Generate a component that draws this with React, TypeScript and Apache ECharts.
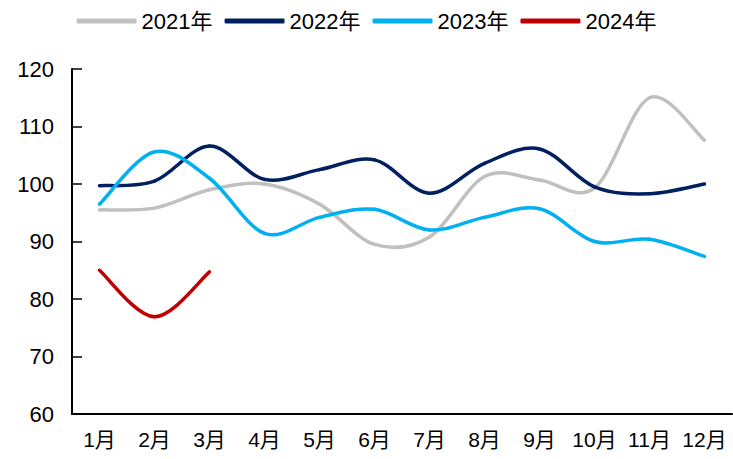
import React, { useEffect, useRef } from "react";
import * as echarts from "echarts";

const months = ["1月", "2月", "3月", "4月", "5月", "6月", "7月", "8月", "9月", "10月", "11月", "12月"];
const s2021 = [95.5, 95.8, 99, 100, 96.5, 89.5, 90.8, 101.3, 100.7, 99.3, 115, 107.6];
const s2022 = [99.7, 100.5, 106.6, 100.8, 102.5, 104.2, 98.4, 103.6, 106.1, 99.5, 98.3, 100];
const s2023 = [96.5, 105.6, 101, 91.4, 94.2, 95.6, 92, 94.2, 95.7, 90, 90.4, 87.4];
const s2024 = [85, 76.9, 84.7];
const names = ["2021年", "2022年", "2023年", "2024年"];
const colors = ["#C0C0C0", "#002060", "#00B0F0", "#C00000"];

const FONT = "'Liberation Sans', 'Noto Sans CJK SC', sans-serif";

export default function App() {
  const ref = useRef<HTMLDivElement>(null);
  useEffect(() => {
    const chart = echarts.init(ref.current!, null, { renderer: "svg" });
    const data = [s2021, s2022, s2023, s2024];
    const makeRender = (arr: number[], color: string) => (params: any, api: any) => {
      const i = params.dataIndex;
      const n = arr.length;
      if (i >= n - 1) return null;
      const c = (k: number) => {
        const kk = Math.max(0, Math.min(n - 1, k));
        return api.coord([kk, arr[kk]]);
      };
      const p0 = c(i - 1), p1 = c(i), p2 = c(i + 1), p3 = c(i + 2);
      const t = 1 / 6;
      return {
        type: "bezierCurve",
        shape: {
          x1: p1[0], y1: p1[1],
          x2: p2[0], y2: p2[1],
          cpx1: p1[0] + (p2[0] - p0[0]) * t,
          cpy1: p1[1] + (p2[1] - p0[1]) * t,
          cpx2: p2[0] - (p3[0] - p1[0]) * t,
          cpy2: p2[1] - (p3[1] - p1[1]) * t,
        },
        style: { stroke: color, lineWidth: 3.5, fill: null, lineCap: "round" },
      };
    };
    chart.setOption({
      animation: false,
      backgroundColor: "#fff",
      legend: {
        top: 5,
        left: "center",
        itemWidth: 60,
        itemHeight: 5,
        itemGap: 12,
        textStyle: { fontFamily: FONT, fontSize: 22, color: "#000" },
        data: names.map((nm, i) => ({ name: nm, icon: "roundRect", itemStyle: { color: colors[i] } })),
      },
      grid: { left: 72, right: 1, top: 69, bottom: 45, containLabel: false },
      xAxis: {
        type: "category",
        data: months,
        boundaryGap: true,
        axisLine: { lineStyle: { color: "#000", width: 2 } },
        axisTick: { inside: true, length: 8, lineStyle: { color: "#000", width: 1.5 } },
        axisLabel: { fontFamily: FONT, fontSize: 21, color: "#000", margin: 15, interval: 0 },
      },
      yAxis: {
        type: "value",
        min: 60,
        max: 120,
        interval: 10,
        splitLine: { show: false },
        axisLine: { show: true, lineStyle: { color: "#000", width: 2 } },
        axisTick: { show: true, inside: true, length: 10, lineStyle: { color: "#000", width: 1.5 } },
        axisLabel: { fontFamily: FONT, fontSize: 22, color: "#000", margin: 18 },
      },
      series: data.map((d, i) => ({
        name: names[i],
        type: "custom",
        data: d.map((v, k) => [k, v]),
        encode: { x: 0, y: 1 },
        itemStyle: { color: colors[i] },
        renderItem: makeRender(d, colors[i]),
      })),
    });
    return () => chart.dispose();
  }, []);
  return <div ref={ref} style={{ width: 733, height: 459, position: "absolute", left: 0, top: 0 }} />;
}
